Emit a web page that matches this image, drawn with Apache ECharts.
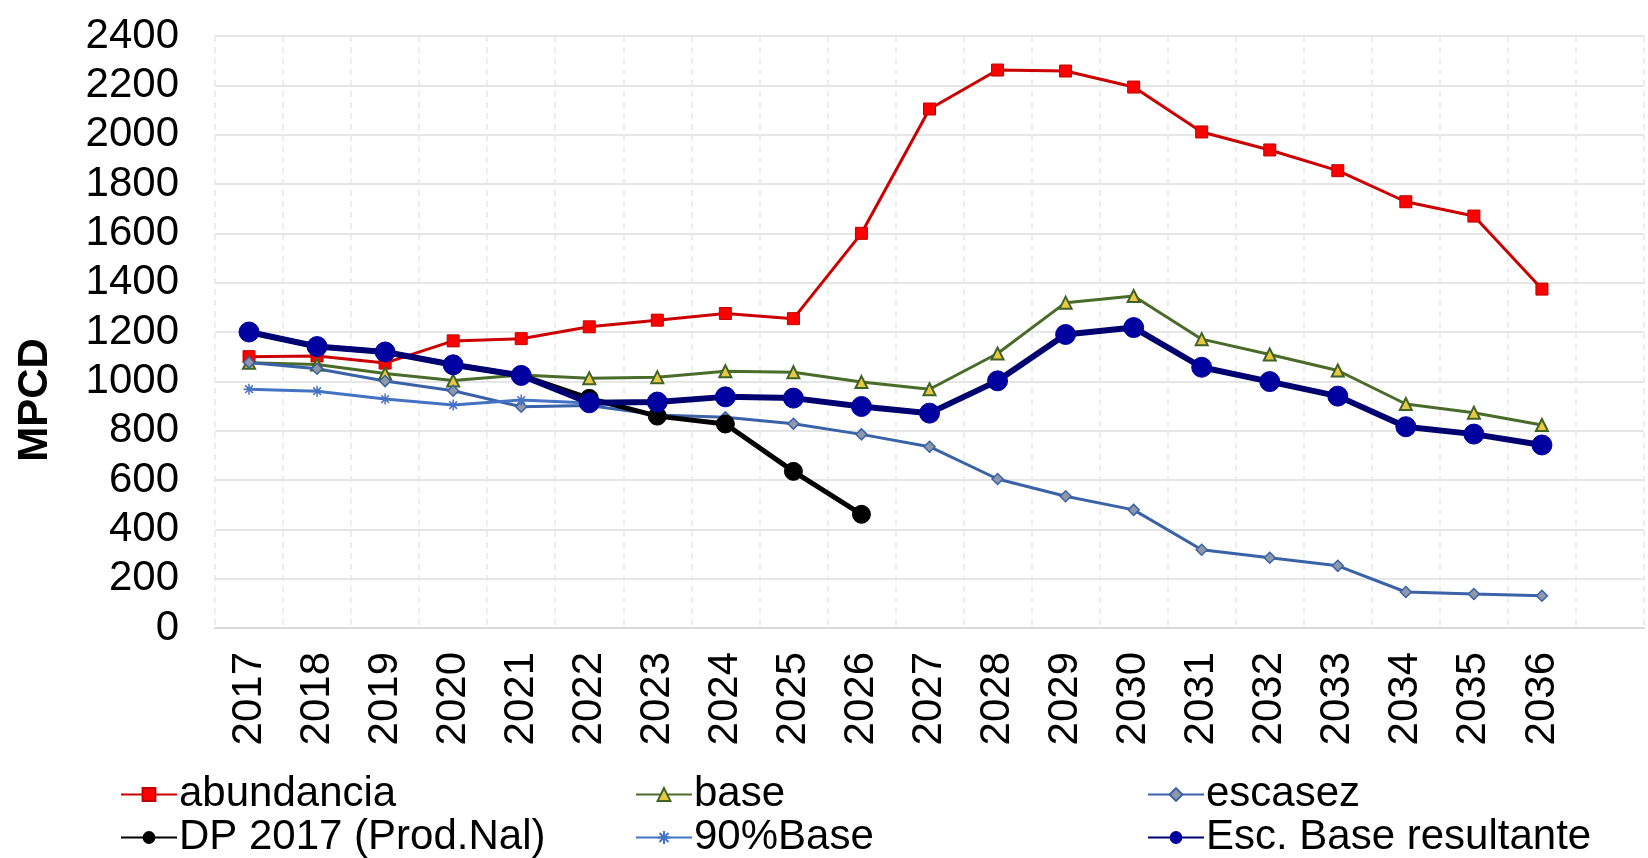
<!DOCTYPE html>
<html>
<head>
<meta charset="utf-8">
<script src="https://cdn.jsdelivr.net/npm/echarts@6/dist/echarts.min.js"></script>
<style>
html,body{margin:0;padding:0;background:#fff;}
#c{width:1648px;height:858px;}
</style>
</head>
<body>
<div id="c"></div>
<script>
var categories = ['2017','2018','2019','2020','2021','2022','2023','2024','2025','2026','2027','2028','2029','2030','2031','2032','2033','2034','2035','2036',''];
var abundancia = [1100,1103,1074,1164,1173,1221,1248,1275,1254,1600,2104,2262,2258,2193,2011,1938,1854,1728,1670,1374];
var base = [1075,1068,1032,1003,1026,1013,1017,1041,1037,997,968,1113,1319,1346,1171,1109,1044,908,873,823];
var escasez = [1076,1051,1001,962,897,902,864,854,828,785,735,604,534,479,317,285,252,146,138,131];
var dp2017 = [1200,1141,1119,1067,1024,931,859,827,635,461];
var base90 = [968,960,928,904,924,912,916,937,932,898,871,1002,1190,1218,1057,999,940,816,786,742];
var escBaseResultante = [1200,1141,1119,1067,1024,913,916,937,932,898,871,1002,1190,1218,1057,999,940,816,786,742];
var yTicks = {min:0, max:2400, interval:200};

var FONT = '"Liberation Sans", Arial, sans-serif';
var chart = echarts.init(document.getElementById('c'));
var asterisk = 'path://M5,0 L5,10 M0,5 L10,5 M1.5,1.5 L8.5,8.5 M8.5,1.5 L1.5,8.5';

function legendItem(left, top, name){
  return {
    orient:'horizontal', left:left, top:top, itemGap:0, padding:0,
    itemWidth:56, itemHeight:16,
    textStyle:{fontFamily:FONT, fontSize:42, color:'#000', lineHeight:43, padding:[0,0,0,-3]},
    data:[name]
  };
}

chart.setOption({
  animation:false,
  backgroundColor:'#fff',
  grid:{left:215, right:4, top:36, bottom:230, containLabel:false},
  legend:[
    legendItem(120, 773, 'abundancia'),
    legendItem(120, 816, 'DP 2017 (Prod.Nal)'),
    legendItem(635, 773, 'base'),
    legendItem(635, 816, '90%Base'),
    legendItem(1147, 773, 'escasez'),
    legendItem(1147, 816, 'Esc. Base resultante')
  ],
  graphic:[{
    type:'text', x:35, y:400, rotation:Math.PI/2,
    style:{text:'MPCD', fontFamily:FONT, fontSize:42, fontWeight:'bold', fill:'#000', align:'center', verticalAlign:'middle'}
  }],
  xAxis:{
    type:'category', data:categories, boundaryGap:true,
    axisLine:{lineStyle:{color:'#D9D9D9', width:2}},
    axisTick:{show:false},
    axisLabel:{rotate:90, interval:0, margin:24, fontFamily:FONT, fontSize:42, color:'#000'},
    splitLine:{show:true, interval:0, lineStyle:{color:'#E8E8E8', width:1.5, type:[6,5]}}
  },
  yAxis:{
    type:'value', min:yTicks.min, max:yTicks.max, interval:yTicks.interval,
    axisLine:{show:false}, axisTick:{show:false},
    axisLabel:{margin:36, fontFamily:FONT, fontSize:42, color:'#000', formatter:function(v){return String(v);}},
    splitLine:{lineStyle:{color:'#E6E6E6', width:2}}
  },
  series:[
    {name:'abundancia', type:'line', data:abundancia, symbol:'rect', symbolSize:12,
     lineStyle:{color:'#CC0000', width:3}, itemStyle:{color:'#FF0000', borderColor:'#C00000', borderWidth:1}},
    {name:'base', type:'line', data:base, symbol:'triangle', symbolSize:12,
     lineStyle:{color:'#4A6B2A', width:3}, itemStyle:{color:'#EBC843', borderColor:'#3F6324', borderWidth:2}},
    {name:'escasez', type:'line', data:escasez, symbol:'diamond', symbolSize:11,
     lineStyle:{color:'#3A62A8', width:3}, itemStyle:{color:'#8E98A8', borderColor:'#3A62A8', borderWidth:1.5}},
    {name:'DP 2017 (Prod.Nal)', type:'line', data:dp2017, symbol:'circle', symbolSize:18,
     lineStyle:{color:'#000000', width:5}, itemStyle:{color:'#000000', borderColor:'#000000'}},
    {name:'90%Base', type:'line', data:base90, symbol:asterisk, symbolSize:11,
     lineStyle:{color:'#4472C4', width:3}, itemStyle:{color:'#4472C4', borderColor:'#4472C4', borderWidth:1.5}},
    {name:'Esc. Base resultante', type:'line', data:escBaseResultante, symbol:'circle', symbolSize:20,
     lineStyle:{color:'#000070', width:6}, itemStyle:{color:'#0000A0', borderColor:'#0000A0'}}
  ]
});
</script>
</body>
</html>
